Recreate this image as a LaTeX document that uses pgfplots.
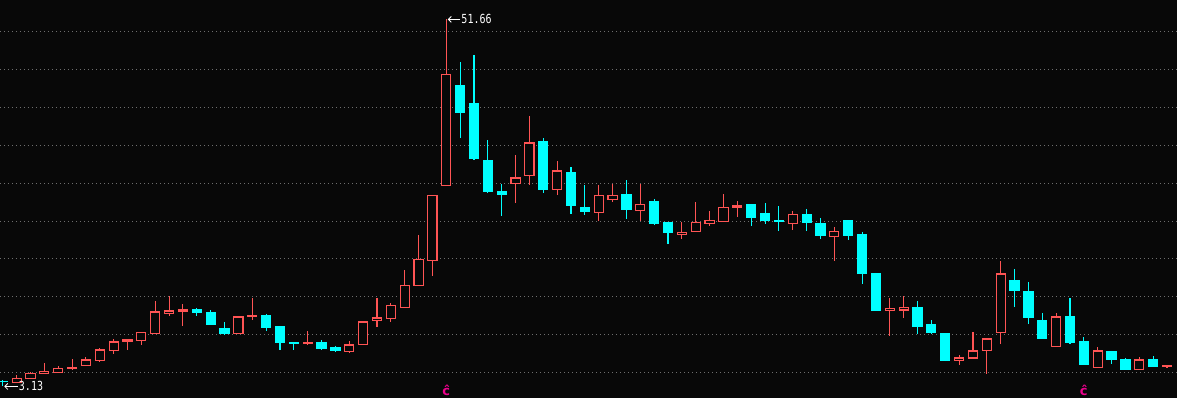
\documentclass[border=0pt]{standalone}
\usepackage{pgfplots}
\pgfplotsset{compat=1.18}
\usepackage{pgfplotstable}
\usepgfplotslibrary{statistics}
\usetikzlibrary{arrows.meta}
\usepackage{fontspec}
\newfontfamily\monof{DejaVu Sans Mono}
\newfontfamily\dejavub{DejaVu Sans Bold}
\definecolor{bg}{RGB}{8,8,8}
\definecolor{up}{RGB}{255,84,84}
\definecolor{down}{RGB}{0,255,255}
\definecolor{gridc}{RGB}{110,110,110}
\definecolor{mark}{RGB}{235,0,140}

\pgfplotstableread{
i o h l c
0 3.80 3.98 3.13 3.76
1 3.63 4.64 3.63 4.21
2 4.15 5.04 4.15 4.87
3 4.81 6.23 4.81 5.13
4 4.95 5.83 4.95 5.53
5 5.48 6.76 5.34 5.66
6 5.87 7.02 5.87 6.63
7 6.53 8.21 6.40 7.95
8 7.86 9.40 7.46 9.01
9 9.05 9.40 7.95 9.27
10 9.18 10.33 8.65 10.20
11 10.10 14.43 10.10 12.97
12 12.75 15.09 12.48 13.10
13 13.01 14.03 11.16 13.24
14 13.24 13.50 12.48 12.88
15 12.84 13.24 11.29 11.29
16 10.72 11.65 9.97 10.10
17 10.10 12.44 10.10 12.31
18 12.35 14.82 11.95 12.48
19 12.44 12.71 10.50 10.90
20 10.99 11.12 7.99 8.91
21 8.88 9.01 7.99 8.84
22 8.84 10.46 8.65 8.88
23 8.87 9.27 7.99 8.12
24 8.21 8.48 7.72 7.86
25 7.72 9.14 7.59 8.61
26 8.65 11.70 8.65 11.65
27 11.82 14.82 11.03 12.18
28 12.14 14.16 11.61 13.86
29 13.59 18.52 13.59 16.50
30 16.50 23.15 16.50 19.94
31 19.81 28.40 17.77 28.40
32 29.72 51.66 29.72 44.40
33 42.85 46.02 36.01 39.32
34 40.47 46.95 33.10 33.24
35 32.93 35.71 28.74 28.88
36 28.84 29.89 25.70 28.48
37 29.99 33.73 27.42 30.69
38 31.04 38.88 29.80 35.31
39 35.44 35.97 28.74 29.14
40 29.19 32.93 28.48 31.61
41 31.35 32.14 25.97 27.02
42 26.81 29.76 25.83 26.23
43 26.10 29.76 25.00 28.40
44 27.82 29.89 27.55 28.40
45 28.44 30.42 25.27 26.50
46 26.42 29.89 25.00 27.21
47 27.51 27.91 24.51 24.64
48 24.74 24.74 22.00 23.46
49 23.24 24.88 22.66 23.51
50 23.64 27.51 23.64 24.83
51 24.70 26.32 24.34 25.09
52 24.91 28.57 24.91 26.81
53 26.76 27.65 25.53 26.98
54 27.12 27.25 24.34 25.44
55 25.93 27.38 24.61 25.04
56 25.04 26.98 23.68 25.00
57 24.64 26.32 23.81 25.89
58 25.80 26.59 23.68 24.78
59 24.61 25.40 22.62 23.06
60 22.93 24.21 19.71 23.64
61 25.00 25.00 22.49 23.06
62 23.15 23.55 16.71 18.03
63 17.99 18.13 13.24 13.24
64 13.14 14.82 9.84 13.41
65 13.24 15.09 12.22 13.54
66 13.50 14.43 10.06 11.12
67 11.25 11.91 10.06 10.24
68 10.06 10.06 6.49 6.63
69 6.53 7.29 5.97 6.89
70 6.89 10.33 6.76 7.82
71 7.86 9.40 4.78 9.40
72 10.24 19.71 8.74 17.99
73 17.07 18.66 13.63 15.79
74 15.62 16.94 11.39 12.31
75 11.78 12.84 9.44 9.44
76 8.38 12.84 8.38 12.31
77 12.31 14.82 8.74 8.91
78 9.01 9.67 6.00 6.00
79 5.61 8.34 5.61 7.82
80 7.68 7.82 6.10 6.76
81 6.63 6.89 5.44 5.44
82 5.34 7.02 5.34 6.63
83 6.63 7.15 5.83 5.83
84 5.80 5.97 5.61 5.85
}\candles

\pgfplotstablegetrowsof{\candles}
\pgfmathtruncatemacro{\lastrow}{\pgfplotsretval-1}

\begin{document}
\begin{tikzpicture}
\begin{axis}[
  scale only axis, width=1177pt, height=398pt,
  at={(0,0)}, anchor=south west,
  xmin=-0.20, xmax=84.72, ymin=1.60, ymax=54.22,
  axis line style={draw=none},
  xtick=\empty, ytick={5,10,...,50}, yticklabels={},
  yticklabel style={inner sep=0pt},
  major tick length=0pt,
  ymajorgrids,
  grid style={dash pattern=on 1pt off 3pt, line width=1pt, color=gridc},
  axis background/.style={fill=bg},
  boxplot/draw direction=y,
  boxplot/box extend=0.66, boxplot/whisker extend=0,
]
\pgfplotsforeachungrouped \r in {0,...,\lastrow}{%
  \pgfplotstablegetelem{\r}{i}\of\candles \let\vI\pgfplotsretval
  \pgfplotstablegetelem{\r}{o}\of\candles \let\vO\pgfplotsretval
  \pgfplotstablegetelem{\r}{h}\of\candles \let\vH\pgfplotsretval
  \pgfplotstablegetelem{\r}{l}\of\candles \let\vL\pgfplotsretval
  \pgfplotstablegetelem{\r}{c}\of\candles \let\vC\pgfplotsretval
  \ifdim\vC pt<\vO pt
    \def\cstyle{draw=down,fill=down}\let\vLo\vC\let\vUp\vO
  \else
    \def\cstyle{draw=up,fill=bg}\let\vLo\vO\let\vUp\vC
  \fi
  \edef\temp{\noexpand\addplot[\cstyle,line width=1.1pt,boxplot prepared={draw position=\vI,lower whisker=\vL,lower quartile=\vLo,median=\vLo,upper quartile=\vUp,upper whisker=\vH}] coordinates {};}%
  \temp
}
% annotations of highest and lowest price
\draw[white, line width=0.8pt, -{Straight Barb[length=3pt,width=6pt]}]
  ([xshift=14pt]axis cs:32,51.66) -- ([xshift=1.5pt]axis cs:32,51.66);
\node[anchor=west, inner sep=0pt, text=white, font=\monof\fontsize{10}{10}\selectfont]
  at ([xshift=15pt]axis cs:32,51.66) {\scalebox{1}[1.25]{51.66}};
\draw[white, line width=0.8pt, -{Straight Barb[length=3pt,width=6pt]}]
  ([xshift=15pt]axis cs:0,3.13) -- ([xshift=1.5pt]axis cs:0,3.13);
\node[anchor=west, inner sep=0pt, text=white, font=\monof\fontsize{10}{10}\selectfont]
  at ([xshift=16pt]axis cs:0,3.13) {\scalebox{1}[1.25]{3.13}};
% markers
\node[anchor=south, inner sep=0pt, text=mark, font=\dejavub\fontsize{13}{13}\selectfont]
  at (axis cs:32,1.92) {ĉ};
\node[anchor=south, inner sep=0pt, text=mark, font=\dejavub\fontsize{13}{13}\selectfont]
  at (axis cs:78,1.92) {ĉ};
\end{axis}
\pgfresetboundingbox
\useasboundingbox (0,0) rectangle (1177pt,398pt);
\end{tikzpicture}
\end{document}
